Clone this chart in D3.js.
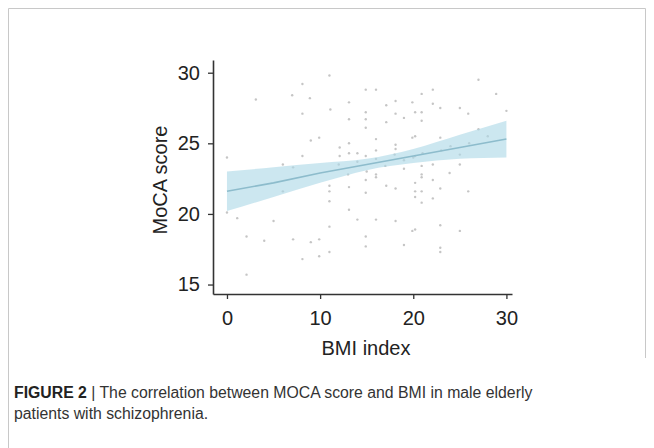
<!DOCTYPE html>
<html>
<head>
<meta charset="utf-8">
<script src="https://cdn.jsdelivr.net/npm/d3@7"></script>
<style>
  html, body { margin: 0; padding: 0; background: #fff; }
  svg { display: block; }
</style>
</head>
<body>
<svg id="chart" width="654" height="448"></svg>
<script>
// ---- data ----
const bmi = [8.1,7.0,3.1,8.9,8.1,9.0,8.1,0,6.0,7.1,
  11.0,14.9,16.0,13.1,17.1,18.1,11.1,14.9,19.9,13.1,14.9,18.1,19.0,17.1,14.9,9.9,16.0,19.9,13.1,12.1,18.1,12.1,13.1,14.0,14.9,16.0,18.1,19.0,16.0,
  27.0,28.9,20.9,22.1,22.1,22.9,25.0,25.9,30.0,20.9,20.2,20.9,20.2,22.9,22.1,20.9,25.0,23.9,20.9,20.2,
  0,1.1,5.0,2.1,4.0,7.1,9.0,8.1,2.1,6.0,
  11.0,11.0,13.1,14.9,16.0,17.1,18.1,14.9,11.0,13.1,14.0,16.0,18.1,11.0,9.9,14.9,14.9,19.0,11.0,9.9,19.9,
  20.9,22.1,20.2,20.9,22.9,20.2,25.9,22.1,20.9,20.2,22.9,25.0,22.9,22.9,20.2,
  12.0,14.0,16.0,18.0,19.0,20.0,21.0,17.0,13.0,15.0,23.0,24.0,26.0,28.0,25.0,27.0];
const moca = [29.2,28.4,28.1,28.2,27.1,25.2,24.1,24.0,23.5,23.3,
  29.8,28.8,28.8,27.9,27.7,28.0,27.4,27.2,27.9,26.7,26.7,27.1,26.8,26.5,26.1,25.4,25.3,25.4,25.0,24.7,24.9,24.1,24.3,24.3,24.1,24.5,24.6,23.2,22.8,
  29.5,28.5,28.5,28.8,27.8,27.5,27.5,27.1,27.3,27.2,27.2,26.6,25.5,25.4,23.5,23.4,23.5,22.9,22.8,24.1,
  20.1,19.7,19.5,18.4,18.1,18.2,18.0,16.8,15.7,21.6,
  22.0,21.6,21.9,22.4,22.6,22.0,21.8,21.5,20.9,20.3,19.6,19.6,19.5,19.1,18.2,18.4,17.7,17.8,17.3,17.0,18.8,
  22.6,22.4,22.2,21.6,21.8,21.6,21.6,21.1,20.8,21.2,19.2,18.8,17.3,17.6,18.9,
  23.5,23.7,23.9,24.2,23.8,24.0,24.3,23.4,22.8,23.0,24.5,24.8,25.0,25.5,24.2,26.0];
const fitX  = [0, 5, 10, 15, 20, 25, 30];
const fitY  = [21.6, 22.2, 22.9, 23.5, 24.1, 24.7, 25.3];
const fitLo = [20.2, 21.2, 22.2, 23.1, 23.6, 23.9, 24.0];
const fitHi = [23.0, 23.3, 23.6, 23.9, 24.6, 25.6, 26.6];
const xTicks = [0, 10, 20, 30];
const yTicks = [15, 20, 25, 30];
const xLabel = "BMI index";
const yLabel = "MoCA score";
const captionBold = "FIGURE 2";
const captionLine1 = " | The correlation between MOCA score and BMI in male elderly";
const captionLine2 = "patients with schizophrenia.";

// ---- drawing ----
const svg = d3.select("#chart");
const x = d3.scaleLinear().domain([-1.5, 30.6]).range([213, 512]);
const y = d3.scaleLinear().domain([14.33, 30.9]).range([294, 60]);
const FONT = "Liberation Sans, Arial, sans-serif";

// frame
svg.append("path")
  .attr("d", "M8.5,448 L8.5,8.5 L645.5,8.5 L645.5,358")
  .attr("fill", "none").attr("stroke", "#c8c8c8").attr("stroke-width", 1);

const fit = fitX.map((v, i) => ({x: v, y: fitY[i], lo: fitLo[i], hi: fitHi[i]}));

// points
svg.append("g").selectAll("circle").data(bmi.map((v, i) => [v, moca[i]]))
  .join("circle")
  .attr("cx", d => x(d[0])).attr("cy", d => y(d[1]))
  .attr("r", 1.2).attr("fill", "#8c8c8c").attr("opacity", 0.5);

// CI band
svg.append("path").datum(fit)
  .attr("d", d3.area().x(d => x(d.x)).y0(d => y(d.lo)).y1(d => y(d.hi)).curve(d3.curveMonotoneX))
  .attr("fill", "#add8e6").attr("opacity", 0.62);

// fit line
svg.append("path").datum(fit)
  .attr("d", d3.line().x(d => x(d.x)).y(d => y(d.y)))
  .attr("fill", "none").attr("stroke", "#8dbccc").attr("stroke-width", 1.6);

// axes
const xAxis = svg.append("g").attr("transform", "translate(0,294)")
  .call(d3.axisBottom(x).tickValues(xTicks).tickSizeInner(5).tickSizeOuter(0).tickPadding(12));
const yAxis = svg.append("g").attr("transform", "translate(213,0)")
  .call(d3.axisLeft(y).tickValues(yTicks).tickSizeInner(5).tickSizeOuter(0).tickPadding(8));
[xAxis, yAxis].forEach(g => {
  g.select(".domain").attr("stroke", "#333").attr("stroke-width", 1.6);
  g.selectAll(".tick line").attr("stroke", "#333").attr("stroke-width", 1.3);
  g.selectAll(".tick text").attr("fill", "#222")
    .style("font-family", FONT).style("font-size", "20px");
});

svg.append("text").attr("x", 366).attr("y", 355).attr("text-anchor", "middle")
  .style("font-family", FONT).style("font-size", "20px")
  .attr("fill", "#222").text(xLabel);
svg.append("text").attr("transform", "translate(167,180) rotate(-90)").attr("text-anchor", "middle")
  .style("font-family", FONT).style("font-size", "20px")
  .attr("fill", "#222").text(yLabel);

// caption
const cap = svg.append("text").attr("x", 14).attr("y", 398)
  .style("font-family", FONT).style("font-size", "15.8px").attr("fill", "#333");
cap.append("tspan").style("font-weight", "bold").attr("fill", "#222").text(captionBold);
cap.append("tspan").text(captionLine1);
svg.append("text").attr("x", 14).attr("y", 419)
  .style("font-family", FONT).style("font-size", "15.8px").attr("fill", "#333")
  .text(captionLine2);
</script>
</body>
</html>
